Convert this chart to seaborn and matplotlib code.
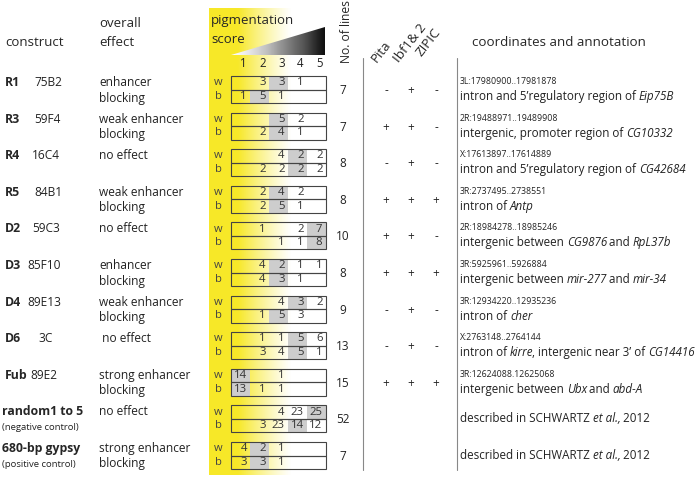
import numpy as np
import matplotlib.pyplot as plt
import seaborn as sns
from matplotlib.patches import Rectangle, Polygon

sns.set_theme(style="white")
plt.rcParams['font.family'] = ['Open Sans', 'DejaVu Sans']

# table content
constructs = ['R1', 'R3', 'R4', 'R5', 'D2', 'D3', 'D4', 'D6', 'Fub', 'random1 to 5', '680-bp gypsy']
bands = ['75B2', '59F4', '16C4', '84B1', '59C3', '85F10', '89E13', '3C', '89E2', '', '']
controls = ['', '', '', '', '', '', '', '', '', '(negative control)', '(positive control)']
effects = ['enhancer\nblocking', 'weak enhancer\nblocking', 'no effect', 'weak enhancer\nblocking',
           'no effect', 'enhancer\nblocking', 'weak enhancer\nblocking', ' no effect',
           'strong enhancer\nblocking', 'no effect', 'strong enhancer\nblocking']
scores = [1, 2, 3, 4, 5]
white_counts = [[0, 3, 3, 1, 0], [0, 0, 5, 2, 0], [0, 0, 4, 2, 2], [0, 2, 4, 2, 0],
                [0, 1, 0, 2, 7], [0, 4, 2, 1, 1], [0, 0, 4, 3, 2], [0, 1, 1, 5, 6],
                [14, 0, 1, 0, 0], [0, 0, 4, 23, 25], [4, 2, 1, 0, 0]]
bx_counts = [[1, 5, 1, 0, 0], [0, 2, 4, 1, 0], [0, 2, 2, 2, 2], [0, 2, 5, 1, 0],
             [0, 0, 1, 1, 8], [0, 4, 3, 1, 0], [0, 1, 5, 3, 0], [0, 3, 4, 5, 1],
             [13, 1, 1, 0, 0], [0, 3, 23, 14, 12], [3, 3, 1, 0, 0]]
white_median = [3, 3, 4, 3, 5, 3, 4, 4, 1, 5, 2]
bx_median = [2, 3, 4, 3, 5, 3, 3, 4, 1, 4, 2]
n_lines = [7, 7, 8, 8, 10, 8, 9, 13, 15, 52, 7]
pita = ['-', '+', '-', '+', '+', '+', '-', '-', '+', '', '']
ibf = ['+', '+', '+', '+', '+', '+', '+', '+', '+', '', '']
zipic = ['-', '-', '-', '+', '-', '+', '-', '-', '+', '', '']
coords = ['3L:17980900..17981878', '2R:19488971..19489908', 'X:17613897..17614889',
          '3R:2737495..2738551', '2R:18984278..18985246', '3R:5925961..5926884',
          '3R:12934220..12935236', 'X:2763148..2764144', '3R:12624088.12625068', '', '']
# *...* marks italic gene names
annots = ['intron and 5\u2019regulatory region of *Eip75B*',
          'intergenic, promoter region of *CG10332*',
          'intron and 5\u2019regulatory region of *CG42684*',
          'intron of *Antp*',
          'intergenic between *CG9876* and *RpL37b*',
          'intergenic between *mir-277* and *mir-34*',
          'intron of *cher*',
          'intron of *kirre*, intergenic near 3\u2019 of *CG14416*',
          'intergenic between *Ubx* and *abd-A*',
          'described in SCHWARTZ *et al.,* 2012',
          'described in SCHWARTZ *et al.,* 2012']

fig = plt.figure(figsize=(7, 4.78), dpi=100)
ax = fig.add_axes([0, 0, 1, 1])
renderer = fig.canvas.get_renderer()

# yellow background band of the score column
xs = np.linspace(209, 300, 200)
alpha = np.clip((292 - xs) / (292 - 238), 0, 1) ** 1.2
band = np.zeros((2, len(xs), 4))
band[..., 0], band[..., 1], band[..., 2] = 0.97, 0.91, 0.16
band[..., 3] = alpha
ax.imshow(band, extent=(209, 300, 475, 8), aspect='auto', zorder=0, interpolation='bilinear')

# grey gradient triangle
tri = Polygon([(231, 55), (325, 27), (325, 55)], closed=True, facecolor='none', edgecolor='none')
ax.add_patch(tri)
grad = np.linspace(0, 1, 256).reshape(1, -1)
im = ax.imshow(grad, cmap='Greys', vmin=0, vmax=1.05, extent=(231, 325, 55, 27), aspect='auto', zorder=1)
im.set_clip_path(tri)

ax.set_xlim(0, 700)
ax.set_ylim(478, 0)
ax.axis('off')

# headers
ax.text(5, 42, 'construct', fontsize=9.5, va='center')
ax.text(99, 23, 'overall', fontsize=9.5, va='center')
ax.text(99, 42, 'effect', fontsize=9.5, va='center')
ax.text(211, 20, 'pigmentation', fontsize=9.5, va='center')
ax.text(211, 39, 'score', fontsize=9.5, va='center')
ax.text(347, 63, 'No. of lines', fontsize=8.7, rotation=90, ha='left', va='center', rotation_mode='anchor')
for x, y, lab in [(377, 63, 'Pita'), (399, 63, 'Ibf1& 2'), (421, 57, 'ZIPIC')]:
    ax.text(x, y, lab, fontsize=9.6, rotation=52, ha='left', va='baseline', rotation_mode='anchor')
ax.text(472, 42, 'coordinates and annotation', fontsize=9.6, va='center')

x0, cw, rh = 231, 18.9, 13.5
for s in scores:
    ax.text(x0 + s * cw - 3, 63, str(s), fontsize=8.3, ha='right', va='center', color='#222')

ax.plot([363, 363], [58, 470], color='#888', lw=0.8)
ax.plot([457, 457], [58, 470], color='#888', lw=0.8)

centers = 89.5 + 36.6 * np.arange(len(constructs))
for i, c in enumerate(centers):
    # construct column
    if bands[i]:
        ax.text(5, c - 7, constructs[i], fontsize=8.8, fontweight='bold', va='center')
        bx = {'D3': 27, 'D4': 27, 'Fub': 30, 'D6': 38, 'R4': 32, 'D2': 32}.get(constructs[i], 34)
        ax.text(bx, c - 7, bands[i], fontsize=8.6, va='center', color='#222')
    else:
        ax.text(2, c - 7, constructs[i], fontsize=8.8, fontweight='bold', va='center')
        ax.text(2, c + 9, controls[i], fontsize=6.8, va='center', color='#222')
    ax.text(99, c - 7, effects[i].split('\n')[0], fontsize=8.6, va='center', color='#222')
    if '\n' in effects[i]:
        ax.text(99, c + 8.5, effects[i].split('\n')[1], fontsize=8.6, va='center', color='#222')

    # pigmentation score boxes
    for r, (lab, counts, med) in enumerate([('w', white_counts[i], white_median[i]),
                                            ('b', bx_counts[i], bx_median[i])]):
        top = c - rh + r * rh
        ax.add_patch(Rectangle((x0 + (med - 1) * cw, top), cw, rh, facecolor='#cdcdcd',
                               edgecolor='none', zorder=2))
        ax.add_patch(Rectangle((x0, top), 5 * cw, rh, facecolor='none', edgecolor='#444',
                               lw=0.8, zorder=3))
        ax.text(218, top + rh / 2, lab, fontsize=8, ha='center', va='center', color='#444')
        for s, n in zip(scores, counts):
            if n:
                ax.text(x0 + s * cw - 3, top + rh / 2, str(n), fontsize=8.2, ha='right',
                        va='center', color='#333', zorder=4)

    ax.text(343, c + 1, str(n_lines[i]), fontsize=8.5, ha='center', va='center', color='#222')
    for x, v in zip([386, 411, 436], [pita[i], ibf[i], zipic[i]]):
        if v:
            ax.text(x, c + 1, v, fontsize=8.5, ha='center', va='center', color='#222')

    # coordinates and annotation with italic gene names
    if coords[i]:
        ax.text(460, c - 8, coords[i], fontsize=6.3, va='center', color='#222')
        ya = c + 7
    else:
        ya = c
    xa = 460
    for k, seg in enumerate(annots[i].split('*')):
        if not seg:
            continue
        t = ax.text(xa, ya, seg, fontsize=8.4, va='center', color='#222',
                    style='italic' if k % 2 else 'normal')
        xa += t.get_window_extent(renderer).width - (1.0 if k % 2 else 0)

fig.savefig('out.png', dpi=100)
